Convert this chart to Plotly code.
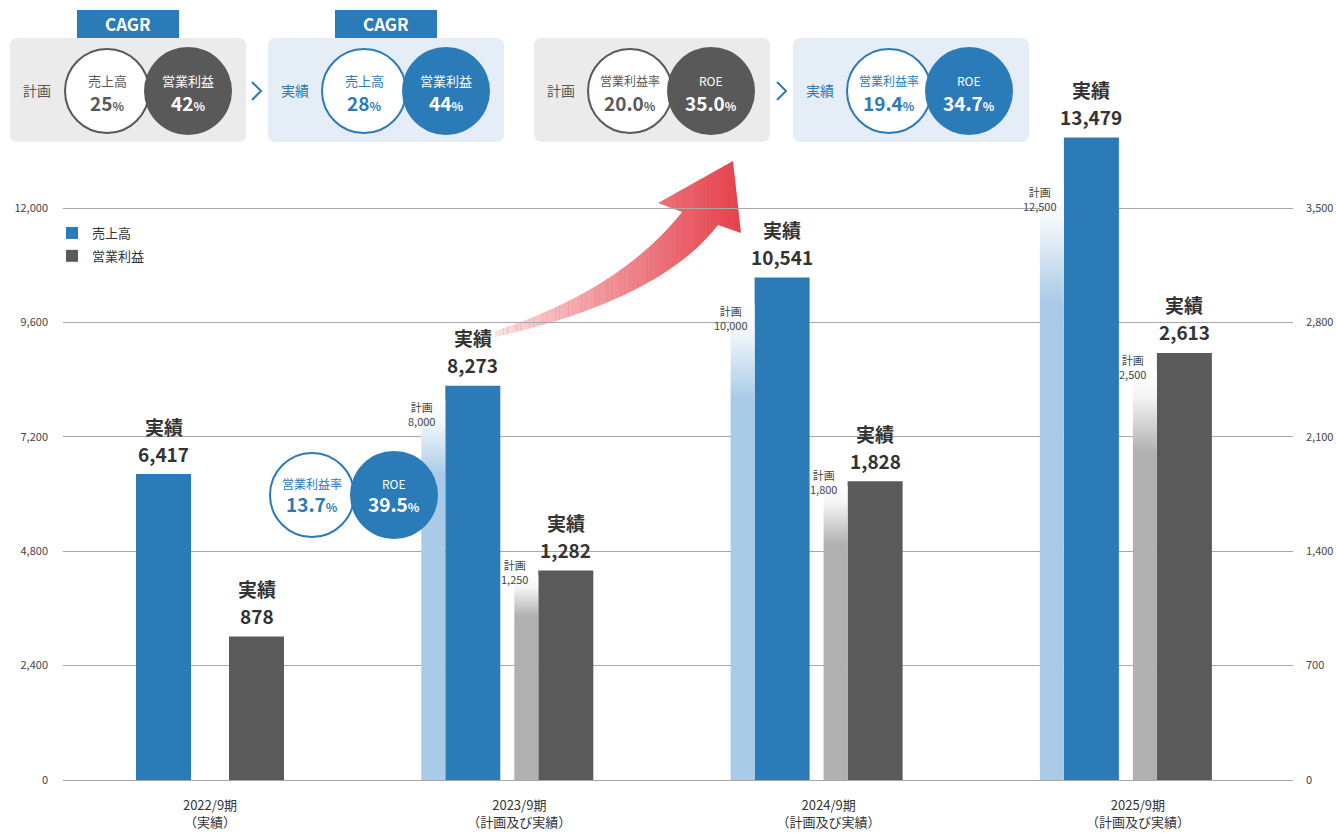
import plotly.graph_objects as go

# ---------------- data ----------------
categories = ["2022/9期<br>（実績）", "2023/9期<br>（計画及び実績）",
              "2024/9期<br>（計画及び実績）", "2025/9期<br>（計画及び実績）"]
sales_actual = [6417, 8273, 10541, 13479]
profit_actual = [878, 1282, 1828, 2613]
sales_plan = [None, 8000, 10000, 12500]
profit_plan = [None, 1250, 1800, 2500]
left_ticks = [0, 2400, 4800, 7200, 9600, 12000]
right_ticks = [0, 700, 1400, 2100, 2800, 3500]

cagr_labels = ["売上高", "営業利益"]
cagr_plan = ["25", "42"]
cagr_actual = ["28", "44"]
ratio_labels = ["営業利益率", "ROE"]
ratio_plan = ["20.0", "35.0"]
ratio_actual = ["19.4", "34.7"]
ratio_2023 = ["13.7", "39.5"]

# ---------------- styling ----------------
FONT = "Noto Sans CJK JP, Noto Sans, sans-serif"
BLUE = "#2b7bb8"
DARK = "#5a5a5a"
LBLUE = "#a9cbe7"
LGRAY = "#b0b0b0"
TXT = "#333333"
W, H = 1336, 833
L, R, T, B = 63, 43, 120, 53
PW, PH = W - L - R, H - T - B
PXU = 309.3                      # px per category unit
X0 = -(210 - L) / PXU
X1 = X0 + PW / PXU
YL = 12000 * PH / 572
YR = 3500 * PH / 572

SA_OFF, SA_W = -74 / PXU, 55 / PXU      # actual sales bar
PA_OFF, PA_W = 19 / PXU, 55 / PXU       # actual profit bar
SP_OFF = -98 / PXU                      # plan sales left edge
PP_OFF = -5 / PXU                       # plan profit left edge


def PX(x):
    return (x - L) / PW


def PY(y):
    return (H - B - y) / PH


fig = go.Figure()

# plan bars (gradient)
for i, v in enumerate(sales_plan):
    if v is None:
        continue
    xa, xb = i + SP_OFF, i + SA_OFF
    fig.add_trace(go.Scatter(
        x=[xa, xb, xb, xa, xa], y=[0, 0, v, v, 0], yaxis="y",
        fill="toself", mode="none", showlegend=False, hoverinfo="skip",
        fillgradient=dict(type="vertical", start=0, stop=v,
                          colorscale=[[0, LBLUE], [0.8, LBLUE], [0.94, "#f3f7fb"], [1, "#ffffff"]])))
for i, v in enumerate(profit_plan):
    if v is None:
        continue
    xa, xb = i + PP_OFF, i + PA_OFF
    fig.add_trace(go.Scatter(
        x=[xa, xb, xb, xa, xa], y=[0, 0, v, v, 0], yaxis="y2",
        fill="toself", mode="none", showlegend=False, hoverinfo="skip",
        fillgradient=dict(type="vertical", start=0, stop=v,
                          colorscale=[[0, LGRAY], [0.8, LGRAY], [0.94, "#f4f4f4"], [1, "#ffffff"]])))

# actual bars
xs = list(range(len(categories)))
fig.add_trace(go.Bar(x=xs, y=sales_actual, name="売上高", yaxis="y",
                     offset=SA_OFF, width=SA_W, marker=dict(color=BLUE, line=dict(width=0)),
                     legendgroup="a", hoverinfo="skip"))
fig.add_trace(go.Bar(x=xs, y=profit_actual, name="営業利益", yaxis="y2",
                     offset=PA_OFF, width=PA_W, marker=dict(color=DARK, line=dict(width=0)),
                     legendgroup="b", hoverinfo="skip"))

ann = []
shapes = []

# value labels
for vals, off, yref in ((sales_actual, SA_OFF, "y"), (profit_actual, PA_OFF, "y2")):
    for i, v in enumerate(vals):
        ann.append(dict(x=i + off + SA_W / 2, y=v, xref="x", yref=yref,
                        text=f"<b>{v:,}</b>", showarrow=False, yanchor="middle",
                        yshift=21, font=dict(size=19, color=TXT, family=FONT)))
        ann.append(dict(x=i + off + SA_W / 2, y=v, xref="x", yref=yref,
                        text="<b>実績</b>", showarrow=False, yanchor="middle",
                        yshift=48, font=dict(size=19, color=TXT, family=FONT)))
for i, v in enumerate(sales_plan):
    if v is None:
        continue
    ann.append(dict(x=i + SP_OFF, y=v, xref="x", yref="y", text=f"計画<br>{v:,}",
                    showarrow=False, yanchor="middle", yshift=-15,
                    font=dict(size=11, color="#444", family=FONT)))
for i, v in enumerate(profit_plan):
    if v is None:
        continue
    ann.append(dict(x=i + PP_OFF, y=v, xref="x", yref="y2", text=f"計画<br>{v:,}",
                    showarrow=False, yanchor="middle", yshift=4,
                    font=dict(size=11, color="#444", family=FONT)))


def text(x, y, s, size, color, bold=False):
    ann.append(dict(x=PX(x), y=PY(y), xref="paper", yref="paper", showarrow=False,
                    text=f"<b>{s}</b>" if bold else s, xanchor="center", yanchor="middle",
                    font=dict(size=size, color=color, family=FONT)))


def pct(v):
    return f"<b>{v}<span style='font-size:12px'>%</span></b>"


def rrect(x0, y0, x1, y1, r, fill):
    p = (f"M{PX(x0 + r)},{PY(y0)} L{PX(x1 - r)},{PY(y0)} Q{PX(x1)},{PY(y0)} {PX(x1)},{PY(y0 + r)} "
         f"L{PX(x1)},{PY(y1 - r)} Q{PX(x1)},{PY(y1)} {PX(x1 - r)},{PY(y1)} "
         f"L{PX(x0 + r)},{PY(y1)} Q{PX(x0)},{PY(y1)} {PX(x0)},{PY(y1 - r)} "
         f"L{PX(x0)},{PY(y0 + r)} Q{PX(x0)},{PY(y0)} {PX(x0 + r)},{PY(y0)} Z")
    shapes.append(dict(type="path", path=p, xref="paper", yref="paper",
                       fillcolor=fill, line=dict(width=0), layer="above"))


def circle(cx, cy, r, fill, line_color=None, lw=2):
    shapes.append(dict(type="circle", xref="paper", yref="paper",
                       x0=PX(cx - r), x1=PX(cx + r), y0=PY(cy + r), y1=PY(cy - r),
                       fillcolor=fill,
                       line=dict(color=line_color or fill, width=lw if line_color else 0),
                       layer="above"))


def rect(x0, y0, x1, y1, fill):
    shapes.append(dict(type="rect", xref="paper", yref="paper", x0=PX(x0), x1=PX(x1),
                       y0=PY(y1), y1=PY(y0), fillcolor=fill, line=dict(width=0), layer="above"))


def chevron(x, y, color):
    shapes.append(dict(type="path", xref="paper", yref="paper",
                       path=f"M{PX(x - 4)},{PY(y - 9)} L{PX(x + 5)},{PY(y)} L{PX(x - 4)},{PY(y + 9)}",
                       line=dict(color=color, width=2), layer="above"))


def panel(x0, kind, labels, values, cx1, cx2, label_size, tab=False):
    gray = kind == "plan"
    fill = "#ebebeb" if gray else "#e5eef7"
    accent = "#595959" if gray else BLUE
    rrect(x0, 38, x0 + 236, 142, 8, fill)
    if tab:
        rect(x0 + 67, 10, x0 + 169, 38, BLUE)
        text(x0 + 118, 24, "CAGR", 17, "white", bold=True)
    text(x0 + 27, 90, "計画" if gray else "実績", 14, accent)
    circle(cx1, 91, 42, "white", accent, 2)
    circle(cx2, 91, 44, accent)
    text(cx1, 80, labels[0], label_size, accent)
    text(cx1, 103, pct(values[0]), 19, accent)
    text(cx2, 80, labels[1], label_size, "white")
    text(cx2, 103, pct(values[1]), 19, "white")


panel(10, "plan", cagr_labels, cagr_plan, 107, 188, 13, tab=True)
chevron(256, 91, BLUE)
panel(268, "actual", cagr_labels, cagr_actual, 364, 446, 13, tab=True)
panel(534, "plan", ratio_labels, ratio_plan, 630, 711, 12)
chevron(781, 91, BLUE)
panel(793, "actual", ratio_labels, ratio_actual, 889, 969, 12)

# in-chart circles for 2023
circle(312, 495, 42, "white", BLUE, 2)
circle(394, 495, 44, BLUE)
text(312, 483, ratio_labels[0], 12, BLUE)
text(312, 503, pct(ratio_2023[0]), 19, BLUE)
text(394, 483, ratio_labels[1], 12, "white")
text(394, 503, pct(ratio_2023[1]), 19, "white")

# red curved arrow (decoration, below gridlines)


def bez(p0, p1, p2, n=30):
    pts = []
    for k in range(n + 1):
        t = k / n
        a, b, c = (1 - t) ** 2, 2 * (1 - t) * t, t * t
        pts.append((a * p0[0] + b * p1[0] + c * p2[0], a * p0[1] + b * p1[1] + c * p2[1]))
    return pts


upper = bez((495, 331), (620, 290), (682, 212))
lower = bez((495, 337), (660, 300), (718, 225))
head = [(658, 203), (733, 161), (741, 233)]
poly = upper + head + lower[::-1]
path = "M" + " L".join(f"{PX(x)},{PY(y)}" for x, y in poly) + " Z"
shapes.append(dict(type="path", path=path, xref="paper", yref="paper",
                   fillcolor="#e5404b", line=dict(width=0), layer="below"))
NS = 60
xa, xb = 486, 746
for k in range(NS):
    s0 = xa + (xb - xa) * k / NS
    s1 = xa + (xb - xa) * (k + 1) / NS
    t = (k + 0.5) / NS
    alpha = 0.88 * (1 - t) ** 1.1
    shapes.append(dict(type="rect", xref="paper", yref="paper", x0=PX(s0), x1=PX(s1),
                       y0=PY(345), y1=PY(150), fillcolor=f"rgba(255,255,255,{alpha:.3f})",
                       line=dict(width=0), layer="below"))

fig.update_layout(
    width=W, height=H, autosize=False,
    margin=dict(l=L, r=R, t=T, b=B, autoexpand=False),
    paper_bgcolor="white", plot_bgcolor="rgba(0,0,0,0)",
    barmode="overlay", hovermode=False,
    font=dict(family=FONT, color=TXT),
    xaxis=dict(range=[X0, X1], tickvals=xs, ticktext=categories, showgrid=False,
               zeroline=False, showline=False, ticks="", ticklabelstandoff=16,
               automargin=False, tickfont=dict(size=13, color=TXT)),
    yaxis=dict(range=[0, YL], tickvals=left_ticks, tickformat=",", showgrid=True,
               gridcolor="#a8a8a8", gridwidth=1, zeroline=True, zerolinecolor="#a8a8a8",
               zerolinewidth=1, showline=False, ticks="", ticklabelstandoff=14,
               automargin=False, tickfont=dict(size=11, color="#444")),
    yaxis2=dict(range=[0, YR], tickvals=right_ticks, tickformat=",", overlaying="y",
                side="right", showgrid=False, zeroline=False, showline=False, ticks="",
                ticklabelstandoff=12, automargin=False, tickfont=dict(size=11, color="#444")),
    legend=dict(x=PX(52), y=PY(218), xanchor="left", yanchor="top",
                font=dict(size=13, color=TXT), bgcolor="rgba(0,0,0,0)",
                traceorder="grouped", tracegroupgap=3),
    annotations=ann, shapes=shapes,
)

fig.write_html("out.html",
               config={"responsive": False, "displayModeBar": False},
               post_script="document.body.style.margin='0';document.body.style.overflow='hidden';")
